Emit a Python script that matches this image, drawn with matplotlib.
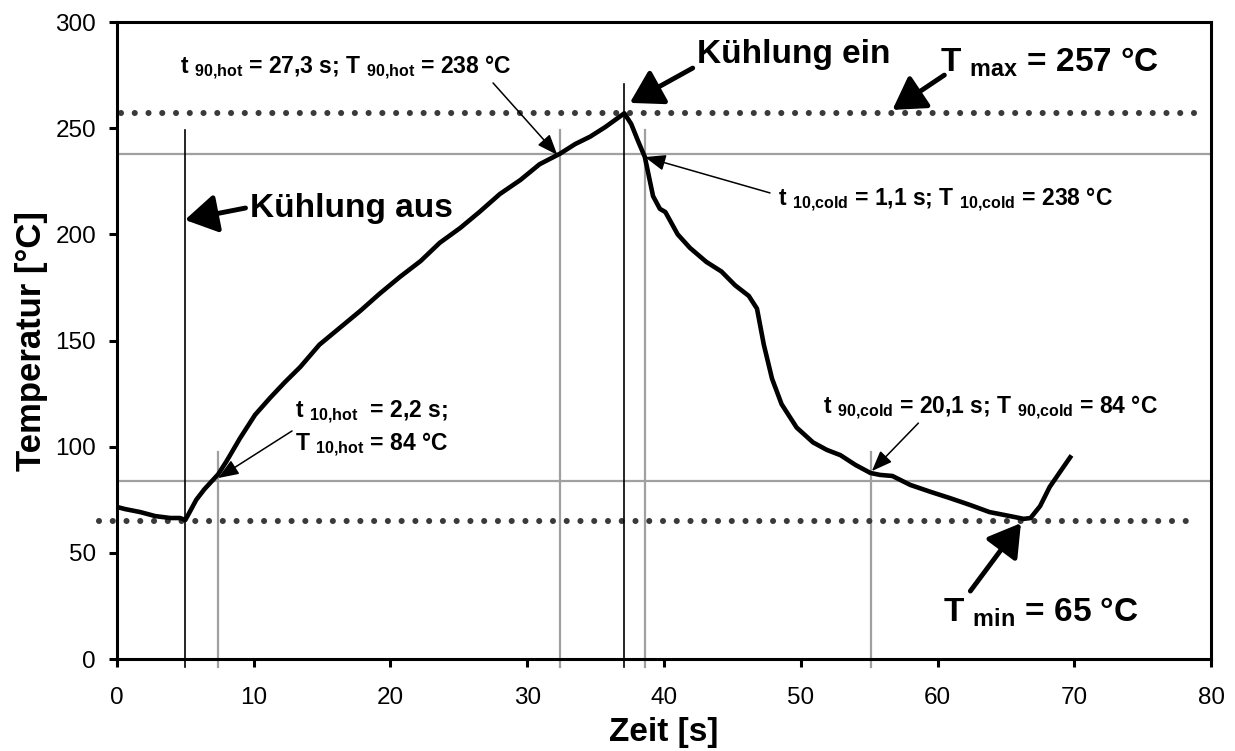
import matplotlib
matplotlib.use('Agg')
import matplotlib.pyplot as plt

plt.rcParams.update({
    'font.family': 'Liberation Sans',
    'mathtext.default': 'regular',
    'axes.linewidth': 2.2,
})

# measured temperature curve
time_s = [0, 0.6, 1.7, 2.8, 3.9, 4.6, 5.0, 5.3, 5.8, 6.4, 7.4, 8.0, 9.0, 10.1, 11.2,
          12.3, 13.4, 14.8, 16.3, 17.8, 19.2, 20.7, 22.2, 23.6, 25.1, 26.5, 28.0,
          29.5, 30.9, 32.4, 33.5, 34.6, 35.7, 37.1, 37.6, 38.1, 38.6, 39.2, 39.7,
          40.1, 41.0, 41.9, 43.1, 44.2, 45.2, 46.2, 46.8, 47.3, 47.9, 48.6, 49.7,
          50.9, 51.9, 52.9, 54.0, 55.1, 55.8, 56.7, 58.0, 59.5, 60.9, 62.4, 63.8,
          65.3, 66.3, 66.8, 67.5, 68.2, 69.0, 69.7]
temp_c = [71.6, 70.6, 69.2, 67.3, 66.4, 66.4, 65.5, 69, 75, 80, 87, 93, 104, 115,
          123, 130.5, 137.5, 148, 156, 164, 172, 180, 187.4, 196, 203, 210.5, 219,
          225.6, 233, 238, 242.5, 246, 250.5, 257, 252, 244, 236.4, 218, 212,
          210.5, 200, 193.6, 187, 182.5, 176, 171, 165, 148, 132, 120, 109,
          102, 98.5, 96, 91.4, 87.6, 86.7, 86.2, 82, 78.7, 75.8, 72.5, 69.2,
          67.3, 66, 66.4, 72, 81, 88.5, 95]

T_MAX, T_MIN = 257, 65
T_HOT90, T_HOT10 = 238, 84
t_off, t_on = 5.0, 37.1
t_hot10, t_hot90 = 7.4, 32.4
t_cold10, t_cold90 = 38.6, 55.1

fig = plt.figure(figsize=(12.35, 7.51), dpi=100)
ax = fig.add_axes([0.0947, 0.1225, 0.8859, 0.8482])
ax.set_xlim(0, 80)
ax.set_ylim(0, 300)

# reference levels
gray = '#a0a0a0'
for lvl in (T_HOT90, T_HOT10):
    ax.axhline(lvl, color=gray, lw=1.6, zorder=1)
dot = dict(color='#3a3a3a', lw=4.4, linestyle=(0, (0.001, 2.25)),
           dash_capstyle='round', zorder=2, clip_on=False)
ax.plot([0.3, 79.5], [T_MAX, T_MAX], **dot)
ax.plot([-1.3, 78.8], [T_MIN, T_MIN], **dot)

# switching times and 10/90 % marks
for t, top in ((t_off, 249), (t_on, 271)):
    ax.plot([t, t], [-3.8, top], color='black', lw=1.2, clip_on=False, zorder=3)
for t, top in ((t_hot10, 97.5), (t_hot90, 249), (t_cold10, 249), (t_cold90, 97.5)):
    ax.plot([t, t], [-3.8, top], color=gray, lw=1.6, clip_on=False, zorder=1)

ax.plot(time_s, temp_c, color='black', lw=3.3, zorder=4, solid_joinstyle='round')

ax.set_xticks(range(0, 81, 10))
ax.set_yticks(range(0, 301, 50))
ax.tick_params(direction='out', length=6, width=2.2, labelsize=17.5)
ax.tick_params(axis='x', pad=14)
ax.tick_params(axis='y', pad=9)
ax.set_xlabel('Zeit [s]', fontsize=24, fontweight='bold', labelpad=6)
ax.set_ylabel('Temperatur [°C]', fontsize=25, fontweight='bold', labelpad=5)

small = dict(fontsize=16.5, fontweight='bold', va='center', ha='left')
big = dict(fontsize=24, fontweight='bold', va='center', ha='left')
thin = dict(arrowstyle='-|>,head_length=0.9,head_width=0.35', color='black', lw=1.1,
            mutation_scale=14, shrinkA=0, shrinkB=0)
thick = dict(arrowstyle='-|>,head_length=0.75,head_width=0.45', color='black', lw=3.5,
             mutation_scale=26, shrinkA=0, shrinkB=0)

ax.text(4.6, 278.3, r't $_{90{,}hot}$ = 27,3 s; T $_{90{,}hot}$ = 238 °C', **small)
ax.annotate('', xy=(32.2, 237.4), xytext=(27.5, 271.3), arrowprops=thin)

ax.text(9.7, 212.4, 'Kühlung aus', **big)
ax.annotate('', xy=(4.97, 206.8), xytext=(9.4, 212.4), arrowprops=thick)

ax.text(42.4, 284.5, 'Kühlung ein', **big)
ax.annotate('', xy=(37.5, 261.9), xytext=(42.1, 278.3), arrowprops=thick)

ax.text(60.2, 281, r'T $_{max}$ = 257 °C', **big)
ax.annotate('', xy=(56.7, 258.6), xytext=(60.5, 275), arrowprops=thick)

ax.text(48.3, 216.2, r't $_{10{,}cold}$ = 1,1 s; T $_{10{,}cold}$ = 238 °C', **small)
ax.annotate('', xy=(38.6, 236.4), xytext=(47.75, 219.5), arrowprops=thin)

ax.text(13.0, 115.9, r't $_{10{,}hot}$  = 2,2 s;', **small)
ax.text(13.0, 100.8, r'T $_{10{,}hot}$ = 84 °C', **small)
ax.annotate('', xy=(7.39, 85.2), xytext=(12.8, 107.4), arrowprops=thin)

ax.text(51.6, 118.2, r't $_{90{,}cold}$ = 20,1 s; T $_{90{,}cold}$ = 84 °C', **small)
ax.annotate('', xy=(55.2, 88.5), xytext=(58.6, 111.1), arrowprops=thin)

ax.text(60.4, 22.1, r'T $_{min}$ = 65 °C', **big)
ax.annotate('', xy=(66.1, 64), xytext=(62.4, 32), arrowprops=thick)

fig.savefig('out.png', dpi=100)
